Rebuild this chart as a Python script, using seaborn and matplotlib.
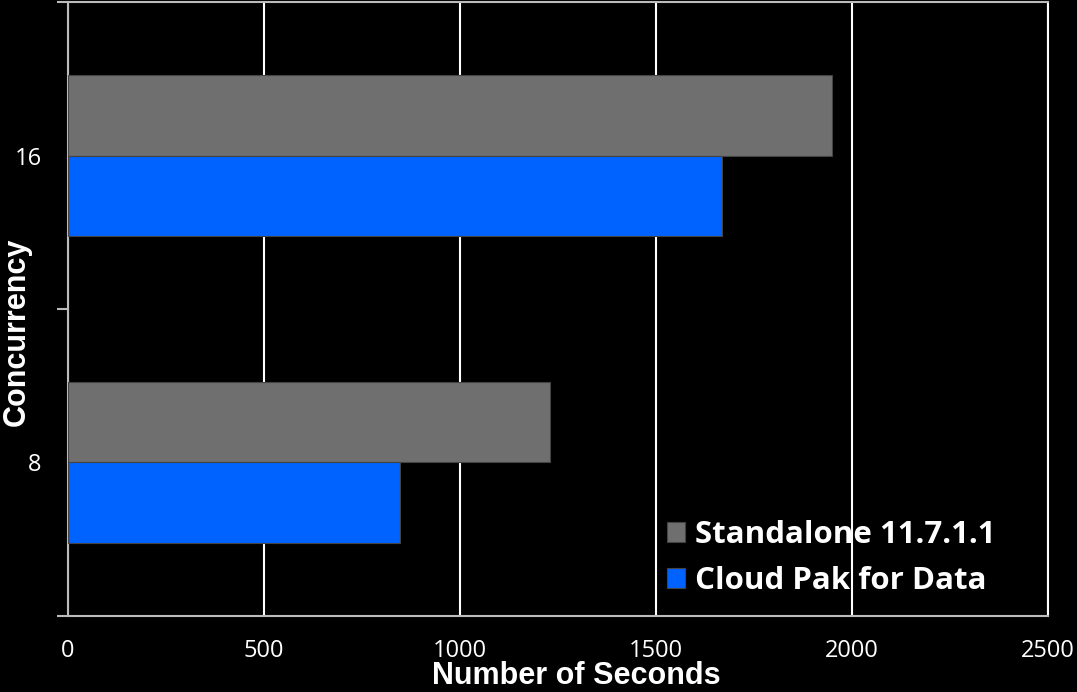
import pandas as pd
import seaborn as sns
import matplotlib.pyplot as plt

# chart data
concurrency = ["16", "8"]
series = ["Standalone 11.7.1.1", "Cloud Pak for Data"]
standalone_secs = [1950, 1230]
cloudpak_secs = [1668, 847]
x_ticks = [0, 500, 1000, 1500, 2000, 2500]

bg = "#000000"
palette = {"Standalone 11.7.1.1": "#6f6f6f", "Cloud Pak for Data": "#0062ff"}

df = pd.DataFrame({
    "Concurrency": concurrency * 2,
    "Series": [series[0]] * 2 + [series[1]] * 2,
    "Seconds": standalone_secs + cloudpak_secs,
})

sns.set_style("dark", rc={"axes.facecolor": bg, "figure.facecolor": bg})
plt.rcParams["font.family"] = ["Open Sans", "DejaVu Sans"]

fig = plt.figure(figsize=(10.77, 6.92), dpi=100)
ax = fig.add_axes([0.0631, 0.110, 0.9099, 0.887])

sns.barplot(data=df, y="Concurrency", x="Seconds", hue="Series", order=concurrency,
            hue_order=series, palette=palette, orient="h", width=0.526,
            saturation=1, edgecolor="#444444", linewidth=0.8, ax=ax, zorder=3)

ax.set_xlim(0, 2500)
ax.set_ylim(1.5, -0.5)
ax.set_xticks(x_ticks)
ax.set_xticklabels([str(t) for t in x_ticks])
ax.tick_params(axis="x", length=0, pad=17, labelcolor="white", labelsize=17)
ax.tick_params(axis="y", which="major", length=0, pad=19, labelcolor="white", labelsize=17)
ax.set_yticks([-0.5, 0.5, 1.5], minor=True)
ax.tick_params(axis="y", which="minor", left=True, length=8, color="#bbbbbb", width=1.5)

ax.grid(axis="x", color="white", linewidth=1.5, zorder=0)
ax.grid(axis="y", visible=False)
for s in ["left", "bottom", "top"]:
    ax.spines[s].set_color("#bbbbbb")
    ax.spines[s].set_linewidth(1.5)
ax.spines["right"].set_color("white")
ax.spines["right"].set_linewidth(1.5)

ax.set_xlabel("Number of Seconds", color="white", fontsize=22, fontweight="bold",
              family=["Liberation Sans", "DejaVu Sans"])
ax.xaxis.set_label_coords(0.519, -0.074)
ax.set_ylabel("Concurrency", color="white", fontsize=22, fontweight="bold",
              family=["Liberation Sans", "DejaVu Sans"])
ax.yaxis.set_label_coords(-0.052, 0.4625)
ax.yaxis.label.set_va("center")

leg = ax.legend(loc="center left", bbox_to_anchor=(0.611, 0.0945), frameon=False,
                borderpad=0, borderaxespad=0,
                handlelength=0.6, handleheight=0.6, handletextpad=0.3,
                labelspacing=0.5, prop={"size": 22.5, "weight": "bold"})
for t in leg.get_texts():
    t.set_color("white")

fig.savefig("out.png", dpi=100, facecolor=bg)
